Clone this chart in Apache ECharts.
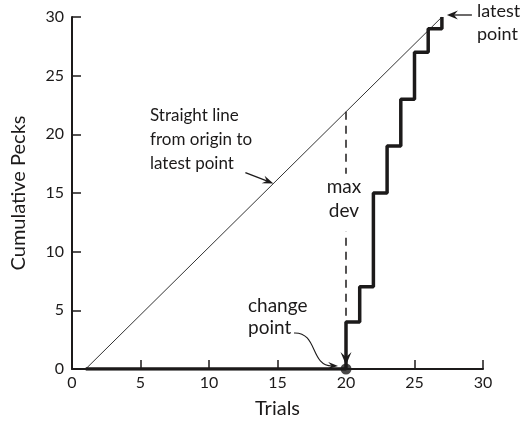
<!DOCTYPE html>
<html>
<head>
<meta charset="utf-8">
<script src="https://cdn.jsdelivr.net/npm/echarts@6/dist/echarts.min.js"></script>
<style>
  html, body { margin: 0; padding: 0; background: #fff; }
  #chart { width: 520px; height: 422px; }
</style>
</head>
<body>
<div id="chart"></div>
<script>
// Cumulative record: one value per trial
const trials = [1, 2, 3, 4, 5, 6, 7, 8, 9, 10, 11, 12, 13, 14, 15, 16, 17, 18, 19, 20, 21, 22, 23, 24, 25, 26, 27];
const cumulativePecks = [0, 0, 0, 0, 0, 0, 0, 0, 0, 0, 0, 0, 0, 0, 0, 0, 0, 0, 0, 4, 7, 15, 19, 23, 27, 29, 30];
const changeTrial = 20;

// Axis ranges and tick spacing
const xRange = [0, 30];
const yRange = [0, 30];
const tickStep = 5;

const ink = '#1c1a1a';
const font = 'Lato, "Noto Sans", sans-serif';

const first = [trials[0], cumulativePecks[0]];
const last = [trials[trials.length - 1], cumulativePecks[cumulativePecks.length - 1]];
const lineAt = t => first[1] + (last[1] - first[1]) * (t - first[0]) / (last[0] - first[0]);
const changeValue = cumulativePecks[trials.indexOf(changeTrial)];

const chart = echarts.init(document.getElementById('chart'), null, { renderer: 'canvas' });

const axisCommon = {
  type: 'value',
  interval: tickStep,
  nameLocation: 'middle',
  nameTextStyle: { fontSize: 20, color: ink, fontFamily: font },
  axisLine: { lineStyle: { color: ink, width: 2 } },
  axisTick: { inside: true, length: 9, lineStyle: { color: ink, width: 1.5 } },
  splitLine: { show: false }
};

chart.setOption({
  animation: false,
  backgroundColor: '#fff',
  grid: { left: 72, right: 37, top: 17, bottom: 53, containLabel: false, outerBoundsMode: 'none' },
  xAxis: Object.assign({}, axisCommon, {
    min: xRange[0], max: xRange[1], name: 'Trials', nameGap: 30,
    axisLabel: { fontSize: 16, color: ink, fontFamily: font, margin: 6 }
  }),
  yAxis: Object.assign({}, axisCommon, {
    min: yRange[0], max: yRange[1], name: 'Cumulative Pecks', nameGap: 43,
    axisLabel: { fontSize: 16, color: ink, fontFamily: font, margin: 8 }
  }),
  series: [
    {
      name: 'diagonal', type: 'line', symbol: 'none', silent: true, z: 2,
      data: [first, last],
      lineStyle: { color: '#333', width: 1 }
    },
    {
      name: 'maxDev', type: 'line', symbol: 'none', silent: true, z: 2,
      data: [[changeTrial, lineAt(changeTrial)], [changeTrial, changeValue]],
      lineStyle: { color: ink, width: 1.5, type: [8, 6] }
    },
    {
      name: 'record', type: 'line', step: 'end', symbol: 'none', silent: true, z: 3,
      data: trials.map((t, i) => [t, cumulativePecks[i]]),
      lineStyle: { color: ink, width: 3.5 }
    },
    {
      name: 'changePoint', type: 'scatter', symbolSize: 11, silent: true, z: 4,
      data: [[changeTrial, 0]],
      itemStyle: { color: ink }
    }
  ]
});

// Annotations anchored to data positions
const px = p => chart.convertToPixel({ gridIndex: 0 }, p);

function head(tip, ang, len, wid, notch) {
  const dx = Math.cos(ang), dy = Math.sin(ang);
  const nx = -dy, ny = dx;
  const bx = tip[0] - dx * len, by = tip[1] - dy * len;
  return {
    type: 'polygon', z: 10, silent: true,
    shape: { points: [
      tip,
      [bx + nx * wid / 2, by + ny * wid / 2],
      [tip[0] - dx * len * (1 - notch), tip[1] - dy * len * (1 - notch)],
      [bx - nx * wid / 2, by - ny * wid / 2]
    ] },
    style: { fill: ink }
  };
}
function seg(a, b, w) {
  return { type: 'line', z: 10, silent: true,
    shape: { x1: a[0], y1: a[1], x2: b[0], y2: b[1] },
    style: { stroke: ink, lineWidth: w || 1.2 } };
}
function label(x, y, text, size, align, lh, bg, pad) {
  return { type: 'text', z: 11, silent: true, x: x, y: y,
    style: { text: text, fill: ink, font: size + 'px ' + font, align: align || 'left',
      verticalAlign: 'top', lineHeight: lh || 24,
      backgroundColor: bg || null, padding: pad || 0 } };
}

const pLast = px(last);
const pChange = px([changeTrial, 0]);
const tTip = 14.7;
const pDiag = px([tTip, lineAt(tTip)]);
const pDevTop = px([changeTrial, lineAt(changeTrial)]);

const graphics = [];
// "latest point"
const lpTip = [pLast[0] + 5, pLast[1] - 2];
graphics.push(seg([lpTip[0] + 6, lpTip[1]], [lpTip[0] + 25, lpTip[1]], 1.3));
graphics.push(head(lpTip, Math.PI, 11, 9, 0.35));
graphics.push(label(pLast[0] + 35, pLast[1] - 17, 'latest\npoint', 18, 'left', 23));

// diagonal caption
const dTail = [pDiag[0] - 28, pDiag[1] - 11];
graphics.push(seg(dTail, [pDiag[0] - 6, pDiag[1] - 2.4], 1.3));
graphics.push(head(pDiag, Math.atan2(pDiag[1] - dTail[1], pDiag[0] - dTail[0]), 11, 8, 0.35));
graphics.push(label(150, 104, 'Straight line\nfrom origin to\nlatest point', 17, 'left', 24));

// max dev caption over the dashed line
graphics.push(label(pDevTop[0] - 2, pDevTop[1] + 62, 'max\ndev', 19, 'center', 24, '#fff', [1, 3, 9, 3]));

// downward arrowhead onto the change point
graphics.push(head([pChange[0], pChange[1] - 4], Math.PI / 2, 13, 11, 0.4));

// curved arrow from "change point"
const c0 = [pChange[0] - 52, pChange[1] - 36];
const cEnd = [pChange[0] - 8, pChange[1] - 3];
graphics.push({ type: 'bezierCurve', z: 10, silent: true,
  shape: { x1: c0[0], y1: c0[1], cpx1: c0[0] + 24, cpy1: c0[1] - 1,
    cpx2: pChange[0] - 36, cpy2: pChange[1] - 3, x2: cEnd[0] - 6, y2: cEnd[1] },
  style: { stroke: ink, lineWidth: 1.1, fill: null } });
graphics.push(head(cEnd, 0.05, 10, 7, 0.35));
graphics.push(label(pChange[0] - 98, pChange[1] - 74, 'change\npoint', 19, 'left', 22));

chart.setOption({ graphic: graphics });
</script>
</body>
</html>
